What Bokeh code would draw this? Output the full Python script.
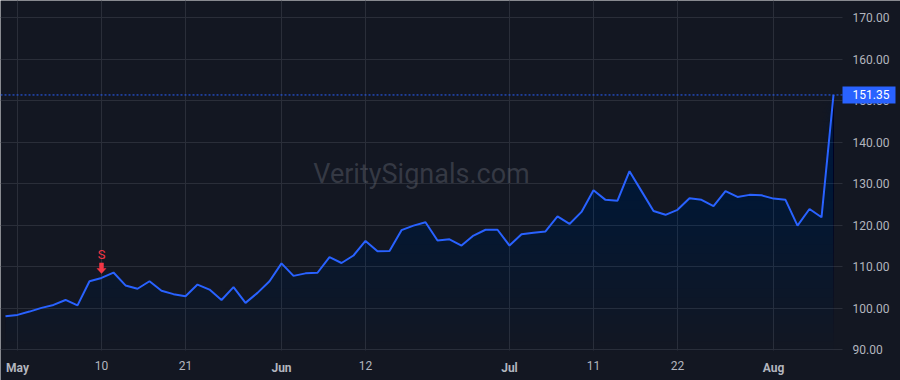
import numpy as np
from bokeh.plotting import figure
from bokeh.models import Range1d, FixedTicker, NumeralTickFormatter, Label, LinearAxis
from bokeh.core.properties import value
from bokeh.embed import file_html
from bokeh.resources import INLINE

# ---------------- data ----------------
dates = [
    "2024-04-30",
    "2024-05-01", "2024-05-02", "2024-05-03", "2024-05-06", "2024-05-07", "2024-05-08",
    "2024-05-09", "2024-05-10", "2024-05-13", "2024-05-14", "2024-05-15", "2024-05-16",
    "2024-05-17", "2024-05-20", "2024-05-21", "2024-05-22", "2024-05-23", "2024-05-24",
    "2024-05-28", "2024-05-29", "2024-05-30", "2024-05-31",
    "2024-06-03", "2024-06-04", "2024-06-05", "2024-06-06", "2024-06-07", "2024-06-10",
    "2024-06-11", "2024-06-12", "2024-06-13", "2024-06-14", "2024-06-17", "2024-06-18",
    "2024-06-20", "2024-06-21", "2024-06-24", "2024-06-25", "2024-06-26", "2024-06-27",
    "2024-06-28",
    "2024-07-01", "2024-07-02", "2024-07-03", "2024-07-05", "2024-07-08", "2024-07-09",
    "2024-07-10", "2024-07-11", "2024-07-12", "2024-07-15", "2024-07-16", "2024-07-17",
    "2024-07-18", "2024-07-19", "2024-07-22", "2024-07-23", "2024-07-24", "2024-07-25",
    "2024-07-26", "2024-07-29", "2024-07-30", "2024-07-31",
    "2024-08-01", "2024-08-02", "2024-08-05", "2024-08-06", "2024-08-07", "2024-08-08",
]
closes = [
    98.1, 98.4, 99.2, 100.1, 100.8, 102.0, 100.7, 106.5, 107.3, 108.6,
    105.5, 104.7, 106.5, 104.2, 103.4, 102.9, 105.7, 104.5, 102.0, 105.1,
    101.3, 103.7, 106.5, 110.8, 107.8, 108.4, 108.55, 112.3, 110.9, 112.7,
    116.2, 113.7, 113.8, 118.8, 119.9, 120.7, 116.3, 116.6, 115.1, 117.5,
    118.9, 118.9, 115.1, 117.8, 118.2, 118.5, 122.1, 120.3, 123.2, 128.4,
    126.1, 125.9, 133.0, 128.2, 123.4, 122.5, 123.7, 126.5, 126.1, 124.6,
    128.2, 126.8, 127.3, 127.2, 126.4, 126.1, 119.9, 123.9, 121.9, 151.35,
]
price_ticks = [90, 100, 110, 120, 130, 140, 150, 160, 170]
day_tick_dates = ["2024-05-10", "2024-05-21", "2024-06-12", "2024-07-11", "2024-07-22"]
day_tick_labels = ["10", "21", "12", "11", "22"]
month_tick_dates = ["2024-05-01", "2024-06-03", "2024-07-01", "2024-08-01"]
month_tick_labels = ["May", "Jun", "Jul", "Aug"]
signal_date = "2024-05-10"
signal_text = "S"
watermark_text = "VeritySignals.com"

# ---------------- style / layout ----------------
BG = "#131722"
GRID = "#2a2e39"
BLUE = "#2962ff"
RED = "#f23645"
TXT = "#b2b5be"
FONT = "Roboto"
W, H = 900, 380           # whole canvas is the frame
PANE_W, PANE_H = 842, 350  # price pane inside it (axes drawn at its edges)
TAG_W, TAG_H = 53, 17

xs = np.arange(len(dates))
idx = {d: i for i, d in enumerate(dates)}
ys = np.array(closes)

PX_PER_BAR = 12.0
PX_PER_UNIT = 332.3 / 80.0
x_start = -5 / PX_PER_BAR
x_end = x_start + W / PX_PER_BAR
x_pane = x_start + PANE_W / PX_PER_BAR
y_end = 170 + 17 / PX_PER_UNIT
y_start = y_end - H / PX_PER_UNIT
y_pane = y_end - PANE_H / PX_PER_UNIT
ux = 1 / PX_PER_BAR
uy = 1 / PX_PER_UNIT

p = figure(
    width=W, height=H,
    x_range=Range1d(x_start, x_end), y_range=Range1d(y_start, y_end),
    y_axis_location="right", output_backend="svg", toolbar_location=None,
    min_border=0, min_border_left=0, min_border_right=0, min_border_top=0, min_border_bottom=0,
    background_fill_color=BG, border_fill_color=BG, outline_line_color=None,
)

# grid (limited to the price pane)
p.xgrid.ticker = FixedTicker(ticks=sorted([idx[d] for d in day_tick_dates + month_tick_dates]))
p.ygrid.ticker = FixedTicker(ticks=price_ticks)
p.xgrid.cross_bounds = (y_pane, y_end)
p.ygrid.cross_bounds = (x_start, x_pane)
p.grid.grid_line_color = GRID

# gradient-like area fill (stacked translucent layers)
levels = np.linspace(y_pane, ys.max(), 30)
for lv in levels:
    p.varea(x=xs, y1=np.full(len(xs), lv), y2=np.maximum(ys, lv),
            fill_color=BLUE, fill_alpha=0.0075)

# watermark
p.add_layout(Label(x=(x_start + x_pane) / 2, y=(y_pane + y_end) / 2, y_offset=2,
                   text=watermark_text, text_align="center", text_baseline="middle",
                   text_font=FONT, text_font_size="27px", text_color="#787b86",
                   text_alpha=0.35, level="underlay"))

# price line
p.line(xs, ys, line_color=BLUE, line_width=2)

# last price dotted line (across the pane)
p.segment(x0=[x_start], y0=[closes[-1]], x1=[x_pane], y1=[closes[-1]],
          line_color=BLUE, line_width=1, line_dash="2 2")

# signal marker
si = idx[signal_date]
sx, sy = xs[si], ys[si]
shape_x = np.array([0, 4.5, 2, 2, -2, -2, -4.5])
shape_y = np.array([0, 5, 5, 10.5, 10.5, 5, 5]) + 4.5
p.patch(sx + shape_x * ux, sy + shape_y * uy, fill_color=RED, line_color=RED, line_width=0.5)
p.text(x=[sx], y=[sy], text=[signal_text], y_offset=-23, text_align="center",
       text_baseline="middle", text_font=value(FONT), text_font_size="13px", text_color=RED)


def style_axis(ax, bold=False):
    ax.axis_line_color = None
    ax.major_tick_line_color = None
    ax.minor_tick_line_color = None
    ax.major_tick_out = 0
    ax.major_tick_in = 0
    ax.major_label_standoff = 10
    ax.major_label_text_color = TXT
    ax.major_label_text_font = FONT
    ax.major_label_text_font_size = "12px"
    if bold:
        ax.major_label_text_font_style = "bold"


# price axis at the right edge of the pane
yax = p.yaxis[0]
yax.ticker = FixedTicker(ticks=price_ticks)
yax.formatter = NumeralTickFormatter(format="0.00")
yax.fixed_location = x_pane
style_axis(yax)

# time axis: day numbers (regular) and month names (bold)
xax = p.xaxis[0]
xax.ticker = FixedTicker(ticks=[idx[d] for d in day_tick_dates])
xax.major_label_overrides = {idx[d]: l for d, l in zip(day_tick_dates, day_tick_labels)}
xax.fixed_location = y_pane
style_axis(xax)

max_ax = LinearAxis(ticker=FixedTicker(ticks=[idx[d] for d in month_tick_dates]),
                    major_label_overrides={idx[d]: l for d, l in zip(month_tick_dates, month_tick_labels)},
                    fixed_location=y_pane)
style_axis(max_ax, bold=True)
p.add_layout(max_ax, "below")

# last price tag on the price axis (drawn above the axis labels)
p.rect(x=[x_pane + TAG_W / 2 * ux], y=[closes[-1]], width=TAG_W, height=TAG_H,
       width_units="screen", height_units="screen",
       fill_color=BLUE, line_color=None, level="overlay")
p.text(x=[x_pane], y=[closes[-1]], text=[f"{closes[-1]:.2f}"], x_offset=10,
       text_align="left", text_baseline="middle", text_font=value(FONT),
       text_font_size="12px", text_color="#ffffff", level="overlay")

open("out.html", "w").write(file_html(p, INLINE))
